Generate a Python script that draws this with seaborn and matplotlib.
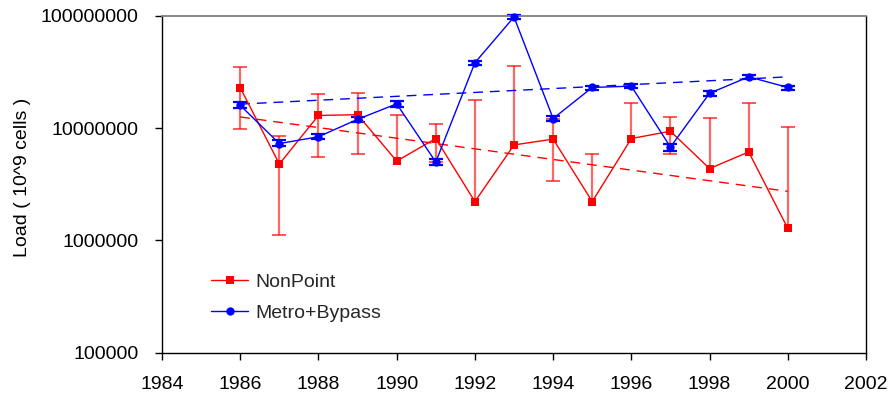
import matplotlib
matplotlib.use("Agg")
import matplotlib.pyplot as plt
import matplotlib.ticker as mticker
import seaborn as sns
import numpy as np
import pandas as pd

# ---- data ----
years = [1986, 1987, 1988, 1989, 1990, 1991, 1992, 1993, 1994, 1995, 1996, 1997, 1998, 1999, 2000]
nonpoint = [2.3e7, 4.8e6, 1.3e7, 1.32e7, 5.1e6, 8.1e6, 2.22e6, 7.1e6, 8.0e6, 2.22e6, 8.1e6, 9.4e6, 4.37e6, 6.15e6, 1.28e6]
nonpoint_hi = [3.5e7, 8.5e6, 2.02e7, 2.07e7, 1.32e7, 1.09e7, 1.8e7, 3.6e7, 1.2e7, 5.9e6, 1.67e7, 1.25e7, 1.24e7, 1.67e7, 1.03e7]
nonpoint_lo = [9.9e6, 1.12e6, 5.6e6, 5.9e6, 5.1e6, 5.0e6, 2.22e6, 7.1e6, 3.4e6, 2.22e6, 8.1e6, 5.9e6, 4.37e6, 6.15e6, 1.28e6]
metro = [1.6e7, 7.3e6, 8.4e6, 1.2e7, 1.65e7, 5.0e6, 3.83e7, 9.8e7, 1.22e7, 2.31e7, 2.37e7, 6.8e6, 2.05e7, 2.87e7, 2.31e7]
metro_hi = [1.7e7, 7.8e6, 8.9e6, 1.27e7, 1.75e7, 5.3e6, 4.0e7, 1.03e8, 1.28e7, 2.4e7, 2.5e7, 7.3e6, 2.15e7, 3.0e7, 2.4e7]
metro_lo = [1.52e7, 6.9e6, 8.0e6, 1.14e7, 1.56e7, 4.7e6, 3.66e7, 9.4e7, 1.16e7, 2.2e7, 2.26e7, 6.3e6, 1.95e7, 2.74e7, 2.2e7]
trend_years = [1986, 2000]
nonpoint_trend = [1.26e7, 2.74e6]
metro_trend = [1.64e7, 2.87e7]
xticks = [1984, 1986, 1988, 1990, 1992, 1994, 1996, 1998, 2000, 2002]
yticks = [1e5, 1e6, 1e7, 1e8]
ytick_labels = ["100000", "1000000", "10000000", "100000000"]
series_names = ["NonPoint", "Metro+Bypass"]
ylabel = "Load ( 10^9 cells )"

sns.set_style("white")
plt.rcParams["font.family"] = ["Liberation Sans", "DejaVu Sans"]

RED = "#ff0000"
BLUE = "#0000ff"

fig = plt.figure(figsize=(8.93, 3.96), dpi=100)
ax = fig.add_axes([0.1814, 0.1093, 0.7884, 0.8503])

df_np = pd.DataFrame({"year": years, "load": nonpoint})
df_m = pd.DataFrame({"year": years, "load": metro})

# NonPoint error bars: bars plus caps only where a whisker exists
yr = np.array(years)
v_np = np.array(nonpoint)
hi_np = np.array(nonpoint_hi)
lo_np = np.array(nonpoint_lo)
ax.vlines(yr, lo_np, hi_np, colors=RED, linewidth=1.6, alpha=0.6, zorder=2)
up_mask = hi_np > v_np
dn_mask = lo_np < v_np
ax.scatter(yr[up_mask], hi_np[up_mask], marker="_", s=110, linewidths=1.4,
           color=RED, alpha=0.65, zorder=2)
ax.scatter(yr[dn_mask], lo_np[dn_mask], marker="_", s=110, linewidths=1.4,
           color=RED, alpha=0.65, zorder=2)

# Metro error bars
y_m = np.array(metro)
ax.errorbar(years, metro,
            yerr=[y_m - np.array(metro_lo), np.array(metro_hi) - y_m],
            fmt="none", ecolor=BLUE, elinewidth=1.4, capsize=5, capthick=1.6,
            zorder=2, clip_on=False)

# trend lines
sns.lineplot(x=trend_years, y=nonpoint_trend, ax=ax, color=RED, lw=1,
             linestyle=(0, (7, 5)), legend=False, zorder=3)
sns.lineplot(x=trend_years, y=metro_trend, ax=ax, color=BLUE, lw=1,
             linestyle=(0, (7, 5)), legend=False, zorder=3)

# series
sns.lineplot(data=df_np, x="year", y="load", ax=ax, color=RED, lw=1,
             marker="s", markersize=6, markeredgewidth=0, label=series_names[0], zorder=4)
sns.lineplot(data=df_m, x="year", y="load", ax=ax, color=BLUE, lw=1,
             marker="o", markersize=6, markeredgewidth=0, label=series_names[1], zorder=4,
             clip_on=False)

ax.set_yscale("log")
ax.set_ylim(1e5, 1e8)
ax.set_xlim(1984, 2002)
ax.set_xticks(xticks)
ax.set_xticklabels([str(t) for t in xticks])
ax.yaxis.set_major_locator(mticker.FixedLocator(yticks))
ax.yaxis.set_major_formatter(mticker.FixedFormatter(ytick_labels))
ax.yaxis.set_minor_locator(mticker.NullLocator())

ax.tick_params(axis="both", which="major", direction="out", length=5, width=1,
               color="black", labelsize=14, labelcolor="black")
ax.tick_params(axis="y", pad=12, left=True)
ax.tick_params(axis="x", pad=12, bottom=True)

for side in ["left", "bottom", "right"]:
    ax.spines[side].set_color("black")
    ax.spines[side].set_linewidth(1)
ax.spines["top"].set_color("#808080")
ax.spines["top"].set_linewidth(1.3)

ax.set_xlabel("")
ax.set_ylabel(ylabel, fontsize=14, color="black")
ax.yaxis.set_label_coords(-0.186, 0.52)

leg = ax.legend(loc="center left", bbox_to_anchor=(0.045, 0.163), frameon=False,
                fontsize=14, handlelength=1.9, handletextpad=0.35, labelspacing=0.7)

fig.savefig("out.png", dpi=100)
